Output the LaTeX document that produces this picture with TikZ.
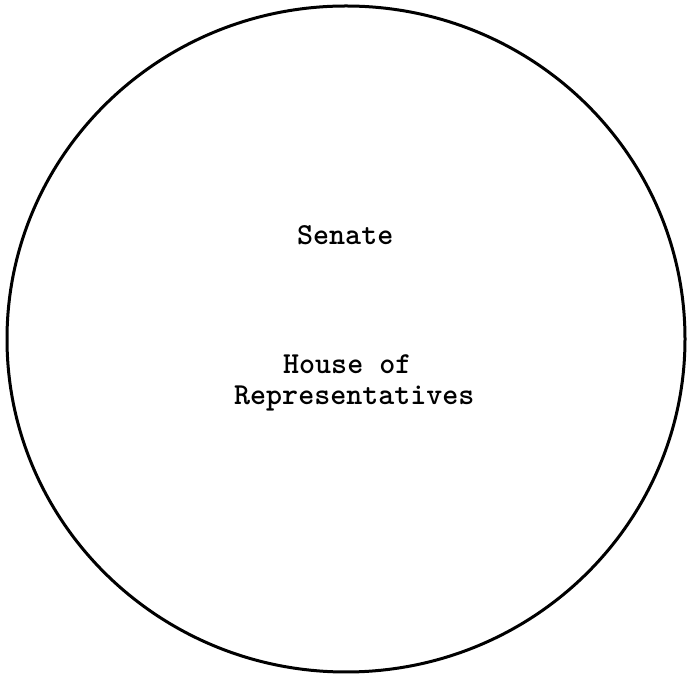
\documentclass[tikz,border=0pt]{standalone}
\usetikzlibrary{shapes.geometric}
\begin{document}
\begin{tikzpicture}[x=1pt,y=1pt,
  label/.style={inner sep=0pt,anchor=base west,font=\ttfamily\bfseries\fontsize{30.5}{36}\selectfont},
  body/.style={draw=black,line width=3pt}]
\useasboundingbox (0,0) rectangle (688,677);
\node[body,ellipse,minimum width=678pt,minimum height=666pt,inner sep=0pt] (congress) at (346,338) {};
\node[label] (senate) at (297,432) {Senate};
\node[label] (house) at (283,303) {House of};
\node[label] (reps) at (234,272) {Representatives};
\end{tikzpicture}
\end{document}
